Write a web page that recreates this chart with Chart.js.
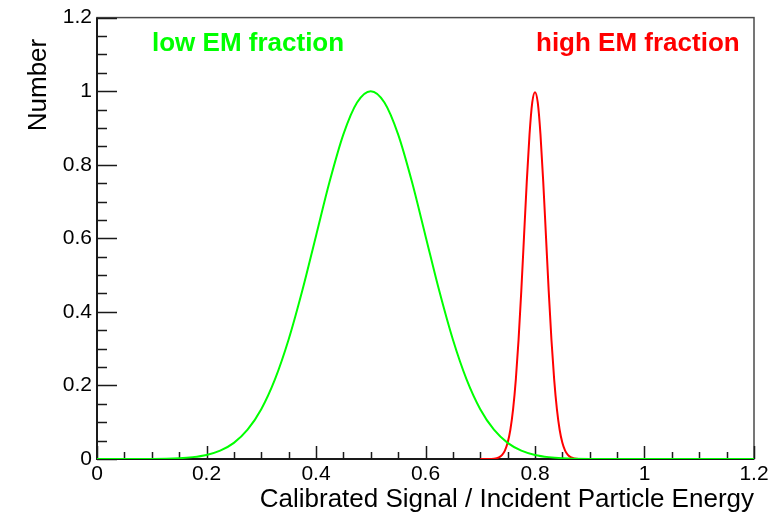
<!DOCTYPE html>
<html>
<head>
<meta charset="utf-8">
<script src="https://cdn.jsdelivr.net/npm/chart.js@4.4.1/dist/chart.umd.min.js"></script>
<style>
  body { margin: 0; background: #fff; }
  #wrap { width: 781px; height: 516px; position: relative; }
</style>
</head>
<body>
<div id="wrap"><canvas id="c"></canvas></div>
<script>
// valeurs
const greenX = [0, 0.1, 0.15, 0.175, 0.2, 0.225, 0.25, 0.275, 0.3, 0.325, 0.35, 0.375, 0.4, 0.425, 0.45, 0.475, 0.5,
                0.525, 0.55, 0.575, 0.6, 0.625, 0.65, 0.675, 0.7, 0.725, 0.75, 0.775, 0.8, 0.825, 0.85, 0.9, 0.95, 1.2];
const greenY = [0, 0.0003, 0.0022, 0.0051, 0.0111, 0.0228, 0.0439, 0.0796, 0.1353, 0.2163, 0.3247, 0.4578, 0.6065, 0.7548, 0.8825, 0.9692, 1.0,
                0.9692, 0.8825, 0.7548, 0.6065, 0.4578, 0.3247, 0.2163, 0.1353, 0.0796, 0.0439, 0.0228, 0.0111, 0.0051, 0.0022, 0.0003, 0, 0];

const redX = [0.7, 0.72, 0.73, 0.735, 0.74, 0.745, 0.75, 0.755, 0.76, 0.765, 0.77, 0.775, 0.78, 0.785, 0.79, 0.795, 0.8,
              0.805, 0.81, 0.815, 0.82, 0.825, 0.83, 0.835, 0.84, 0.845, 0.85, 0.855, 0.86, 0.865, 0.88, 0.9, 1.2];
const redY = [0, 0.0003, 0.0022, 0.0051, 0.0111, 0.0228, 0.0439, 0.0796, 0.1353, 0.2163, 0.3247, 0.4578, 0.6065, 0.7548, 0.8825, 0.9692, 0.997,
              0.9692, 0.8825, 0.7548, 0.6065, 0.4578, 0.3247, 0.2163, 0.1353, 0.0796, 0.0439, 0.0228, 0.0111, 0.0051, 0.0003, 0, 0];

const yTicksMajor = [0, 0.2, 0.4, 0.6, 0.8, 1, 1.2];
const xTicksMajor = [0, 0.2, 0.4, 0.6, 0.8, 1, 1.2];

const FONT = "'Liberation Sans', Arial, sans-serif";

const toPoints = (xs, ys) => xs.map((x, i) => ({ x: x, y: ys[i] }));

// étiquette seulement pour les graduations principales
const majorLabel = (list) => (v) => {
  const hit = list.find(m => Math.abs(m - v) < 1e-6);
  return hit === undefined ? '' : String(hit);
};

// cadre + graduations vers l'intérieur, façon ROOT
const frame = {
  id: 'frame',
  beforeDatasetsDraw(chart) {
    const { ctx, chartArea: a, scales } = chart;
    const x = scales.x, y = scales.y;
    ctx.save();
    ctx.strokeStyle = '#4a4a4a';
    ctx.lineWidth = 1.5;
    ctx.strokeRect(a.left, a.top, a.right - a.left, a.bottom - a.top);

    ctx.strokeStyle = '#1a1a1a';
    ctx.lineWidth = 2;
    ctx.beginPath();
    ctx.moveTo(a.left, a.top);
    ctx.lineTo(a.left, a.bottom);
    ctx.lineTo(a.right, a.bottom);
    ctx.stroke();

    ctx.lineWidth = 1.5;
    ctx.beginPath();
    y.ticks.forEach(t => {
      const py = Math.round(y.getPixelForValue(t.value)) + 0.5;
      const len = t.label !== '' ? 20 : 10;
      ctx.moveTo(a.left, py);
      ctx.lineTo(a.left + len, py);
    });
    x.ticks.forEach(t => {
      const px = Math.round(x.getPixelForValue(t.value)) + 0.5;
      const len = t.label !== '' ? 13 : 7;
      ctx.moveTo(px, a.bottom);
      ctx.lineTo(px, a.bottom - len);
    });
    ctx.stroke();
    ctx.restore();
  },
  afterDraw(chart) {
    const { ctx } = chart;
    ctx.save();
    // titre de l'axe vertical, collé en haut
    ctx.translate(46, 85);
    ctx.rotate(-Math.PI / 2);
    ctx.fillStyle = '#000';
    ctx.font = '26px ' + FONT;
    ctx.textAlign = 'center';
    ctx.textBaseline = 'alphabetic';
    ctx.fillText('Number', 0, 0);
    ctx.restore();

    ctx.save();
    ctx.font = 'bold 26px ' + FONT;
    ctx.textAlign = 'left';
    ctx.textBaseline = 'alphabetic';
    ctx.fillStyle = '#00ff00';
    ctx.fillText('low EM fraction', 152, 51);
    ctx.fillStyle = '#ff0000';
    ctx.fillText('high EM fraction', 536, 51);
    ctx.restore();
  }
};

const ctx = document.getElementById('c').getContext('2d');
new Chart(ctx, {
  type: 'line',
  data: {
    datasets: [
      {
        label: 'low EM fraction',
        data: toPoints(greenX, greenY),
        borderColor: '#00ff00',
        borderWidth: 2,
        pointRadius: 0,
        cubicInterpolationMode: 'monotone',
        fill: false
      },
      {
        label: 'high EM fraction',
        data: toPoints(redX, redY),
        borderColor: '#ff0000',
        borderWidth: 2,
        pointRadius: 0,
        cubicInterpolationMode: 'monotone',
        fill: false
      }
    ]
  },
  options: {
    responsive: true,
    maintainAspectRatio: false,
    animation: false,
    layout: { padding: { top: 15, right: 27, left: 0, bottom: 0 } },
    plugins: {
      legend: { display: false },
      tooltip: { enabled: false }
    },
    scales: {
      x: {
        type: 'linear',
        min: 0,
        max: 1.2,
        grid: { display: false, drawTicks: false, tickLength: 0 },
        border: { display: false },
        afterFit: (s) => { s.height = 57; },
        ticks: {
          stepSize: 0.05,
          autoSkip: false,
          maxRotation: 0,
          padding: 3,
          color: '#000',
          font: { family: FONT, size: 21 },
          callback: majorLabel(xTicksMajor)
        },
        title: {
          display: true,
          text: 'Calibrated Signal / Incident Particle Energy',
          align: 'end',
          color: '#000',
          font: { family: FONT, size: 26 },
          padding: { top: 0, bottom: 1 }
        }
      },
      y: {
        type: 'linear',
        min: 0,
        max: 1.2,
        grid: { display: false, drawTicks: false, tickLength: 0 },
        border: { display: false },
        afterFit: (s) => { s.width = 97; },
        ticks: {
          stepSize: 0.05,
          autoSkip: false,
          padding: 5,
          color: '#000',
          font: { family: FONT, size: 21 },
          callback: majorLabel(yTicksMajor)
        }
      }
    }
  },
  plugins: [frame]
});
</script>
</body>
</html>
